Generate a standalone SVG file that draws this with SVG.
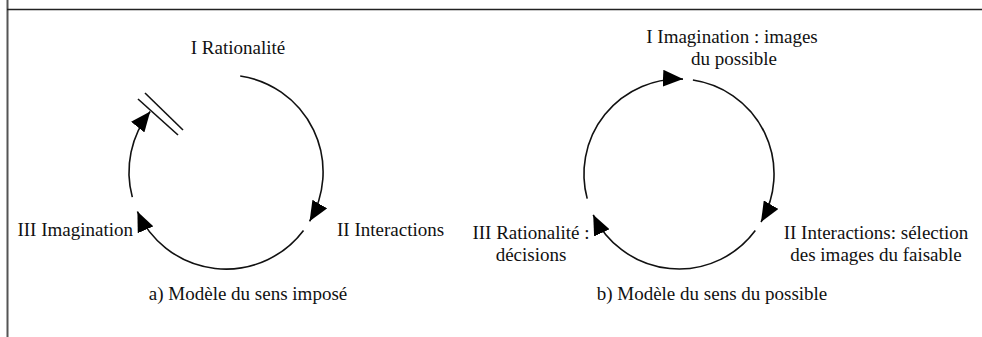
<svg xmlns="http://www.w3.org/2000/svg" width="982" height="337" viewBox="0 0 982 337">
<style>
.t{font-size:19px;fill:#111}
.c{text-anchor:middle}
.arc{fill:none;stroke:#111;stroke-width:1.6;marker-end:url(#ah)}
</style>
<defs>
<marker id="ah" markerUnits="userSpaceOnUse" viewBox="0 0 20 17" markerWidth="20" markerHeight="17" refX="20" refY="8.5" orient="auto">
<path d="M0,0 L20,8.5 L0,17 z" fill="#000"/>
</marker>
</defs>
<rect width="982" height="337" fill="#fff"/>
<g id="frame" fill="none">
<line x1="7.5" y1="0" x2="7.5" y2="337" stroke="#555" stroke-width="2"/>
<line x1="7" y1="9.5" x2="982" y2="9.5" stroke="#222" stroke-width="1.6"/>
</g>
<g id="connectors">
<path class="arc" d="M240.2,76 A97,97 0 0 1 309.6,221.3"/>
<path class="arc" d="M303.5,230.4 A97,97 0 0 1 137.4,211.5"/>
<path class="arc" d="M132.3,197.1 A97,97 0 0 1 150.2,111.5"/>
<g stroke="#111" stroke-width="1.6">
<line x1="145" y1="93" x2="183" y2="130"/>
<line x1="138" y1="99" x2="178" y2="135"/>
</g>
<path class="arc" d="M587.2,198.6 A95,95 0 0 1 683,79.1"/>
<path class="arc" d="M692.9,80 A95,95 0 0 1 761,222"/>
<path class="arc" d="M755.3,230.6 A95,95 0 0 1 593.2,214.8"/>
</g>
<g font-family="Liberation Serif, Times New Roman, DejaVu Serif, serif">
<g id="a-rationalite"><text class="t c" x="238" y="54">I Rationalité</text></g>
<g id="a-interactions"><text class="t" x="337" y="236">II Interactions</text></g>
<g id="a-imagination"><text class="t" x="133" y="236" text-anchor="end">III Imagination</text></g>
<g id="a-caption"><text class="t c" x="248" y="300">a) Modèle du sens imposé</text></g>
<g id="b-imagination"><text class="t c" x="732" y="43">I Imagination : images</text><text class="t c" x="734" y="65">du possible</text></g>
<g id="b-interactions"><text class="t c" x="876" y="239">II Interactions: sélection</text><text class="t c" x="876" y="261">des images du faisable</text></g>
<g id="b-rationalite"><text class="t c" x="531" y="239">III Rationalité :</text><text class="t c" x="531" y="261">décisions</text></g>
<g id="b-caption"><text class="t c" x="712" y="300">b) Modèle du sens du possible</text></g>
</g>
</svg>
